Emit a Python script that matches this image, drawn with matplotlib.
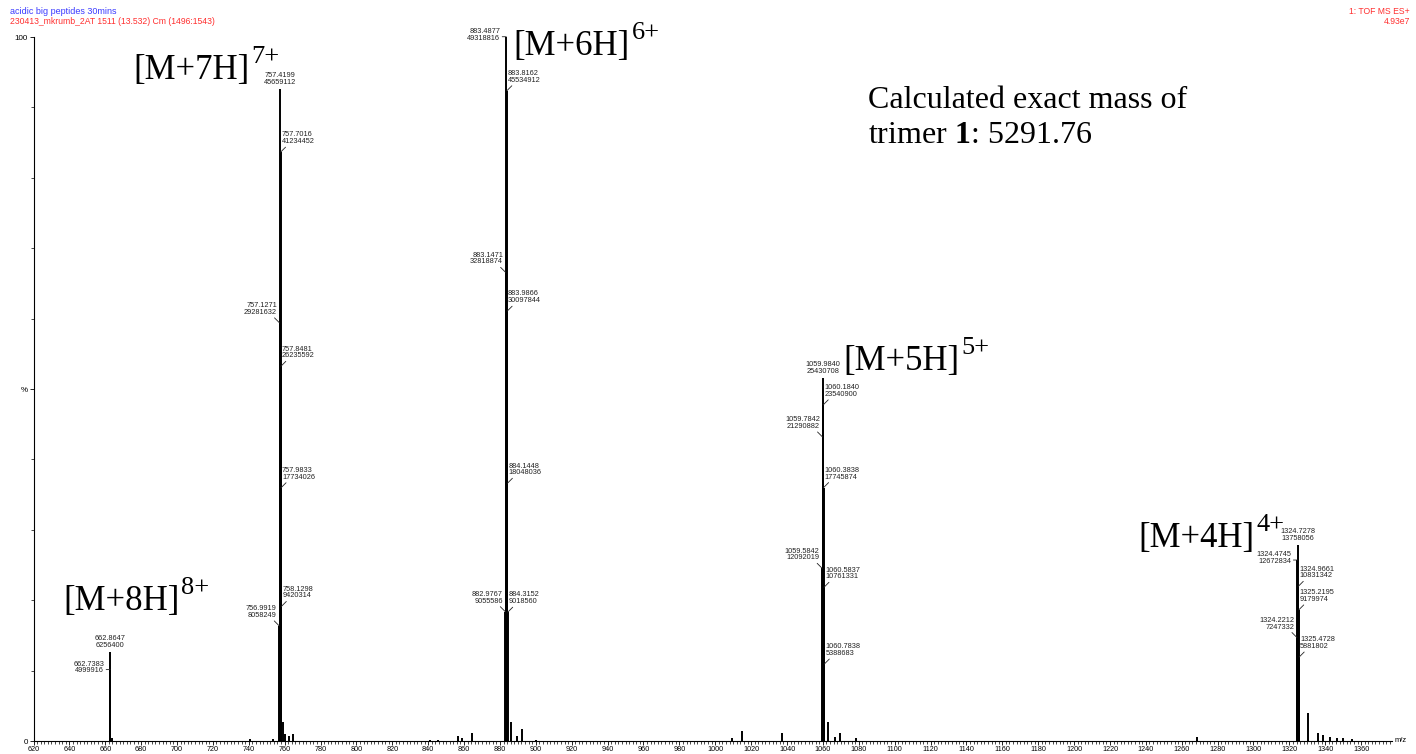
import matplotlib
matplotlib.use("Agg")
import matplotlib.pyplot as plt
from matplotlib.ticker import MultipleLocator, FixedLocator

plt.rcParams['mathtext.fontset'] = 'custom'
plt.rcParams['mathtext.rm'] = 'Liberation Serif'
plt.rcParams['mathtext.bf'] = 'Liberation Serif:bold'

# base peak intensity (100 %)
base_int = 4.93e7

# labelled isotope peaks: m/z, intensity, label placement
peak_mz = [662.7383, 662.8647,
           756.9919, 757.1271, 757.4199, 757.7016, 757.8481, 757.9833, 758.1298,
           882.9767, 883.1471, 883.4877, 883.8162, 883.9866, 884.1448, 884.3152,
           1059.5842, 1059.7842, 1059.9840, 1060.1840, 1060.3838, 1060.5837, 1060.7838,
           1324.2212, 1324.4745, 1324.7278, 1324.9661, 1325.2195, 1325.4728]
peak_int = [4999916, 6256400,
            8058249, 29281632, 45659112, 41234452, 26235592, 17734026, 9420314,
            9055586, 32818874, 49318816, 45534912, 30097844, 18048036, 9018560,
            12092019, 21290882, 25430708, 23540900, 17745874, 10761331, 5388683,
            7247332, 12672834, 13758056, 10831342, 9179974, 5881802]
peak_pos = ['h', 't',
            'l', 'l', 't', 'r', 'r', 'r', 'r',
            'l', 'l', 'h', 'r', 'r', 'r', 'r',
            'l', 'l', 't', 'r', 'r', 'r', 'r',
            'l', 'h', 't', 'r', 'r', 'r', 'r']

# small unlabelled peaks near the baseline (m/z, %)
noise_mz = [663.5, 740.7, 753.5, 759.2, 760.0, 762.5, 764.7, 841.0, 845.6, 856.6,
            859.0, 864.4, 886.2, 889.6, 892.3, 900.0, 1009.4, 1015.0, 1037.2, 1062.8,
            1067.0, 1069.3, 1078.2, 1268.6, 1330.4, 1335.9, 1338.7, 1342.6, 1346.4,
            1349.8, 1354.8]
noise_pct = [0.4, 0.3, 0.3, 2.7, 1.0, 0.7, 1.0, 0.2, 0.2, 0.7,
             0.4, 1.1, 2.7, 0.7, 1.7, 0.2, 0.4, 1.4, 1.1, 2.7,
             0.6, 1.2, 0.4, 0.5, 4.0, 1.1, 0.8, 0.6, 0.4,
             0.4, 0.3]

# charge state labels
ion_text = ['[M+8H]', '[M+7H]', '[M+6H]', '[M+5H]', '[M+4H]']
ion_sup = ['8+', '7+', '6+', '5+', '4+']
ion_mz = [636.4, 675.5, 887.3, 1071.2, 1235.6]
ion_pct = [18.6, 94.0, 97.4, 52.7, 27.6]

x_ticks = list(range(620, 1380, 20))

fig = plt.figure(figsize=(14.16, 7.54), dpi=100)
ax = fig.add_axes([33.5 / 1416, 13 / 754, (1392 - 33.5) / 1416, 704 / 754])

all_pct = [i / base_int * 100 for i in peak_int]
ax.vlines(peak_mz, 0, all_pct, color='black', lw=1.4)
ax.vlines(noise_mz, 0, noise_pct, color='black', lw=1.4)

ax.set_xlim(620, 1377.2)
ax.set_ylim(0, 100)
for s in ['top', 'right']:
    ax.spines[s].set_visible(False)
for s in ['left', 'bottom']:
    ax.spines[s].set_linewidth(0.8)

ax.xaxis.set_major_locator(FixedLocator(x_ticks))
ax.xaxis.set_minor_locator(MultipleLocator(2))
ax.set_xticklabels([str(t) for t in x_ticks], fontsize=5.2, family='Liberation Sans')
ax.tick_params(axis='x', which='major', length=3, width=0.6, pad=0.5)
ax.tick_params(axis='x', which='minor', length=1.8, width=0.5)

ax.yaxis.set_major_locator(FixedLocator([0, 50, 100]))
ax.yaxis.set_minor_locator(MultipleLocator(10))
ax.set_yticklabels(['0', '%', '100'], fontsize=5.8, family='Liberation Sans')
ax.tick_params(axis='y', which='major', length=3, width=0.6, pad=1)
ax.tick_params(axis='y', which='minor', length=2, width=0.5)

px = 0.72  # points per pixel
lab_kw = dict(fontsize=5.3, family='Liberation Sans', color='#222222',
              textcoords='offset points', linespacing=0.95)
lead_kw = dict(arrowstyle='-', lw=0.6, color='#222222', shrinkA=0, shrinkB=0)

for mz, inten, pos in zip(peak_mz, peak_int, peak_pos):
    pct = inten / base_int * 100
    txt = f"{mz:.4f}\n{inten}"
    if pos == 't':
        ax.annotate(txt, (mz, pct), xytext=(0, 3 * px), ha='center', va='bottom', **lab_kw)
    elif pos == 'r':
        ax.annotate(txt, (mz, pct), xytext=(1 * px, 7 * px), ha='left', va='bottom', **lab_kw)
        ax.annotate('', (mz, pct), xytext=(5 * px, 5 * px), textcoords='offset points',
                    arrowprops=lead_kw)
    elif pos == 'l':
        ax.annotate(txt, (mz, pct), xytext=(-2.5 * px, 7 * px), ha='right', va='bottom', **lab_kw)
        ax.annotate('', (mz, pct), xytext=(-5 * px, 5 * px), textcoords='offset points',
                    arrowprops=lead_kw)
    else:
        ax.annotate(txt, (mz, pct), xytext=(-6 * px, 2 * px), ha='right', va='center', **lab_kw)
        ax.annotate('', (mz, pct), xytext=(-4 * px, 0), textcoords='offset points',
                    arrowprops=lead_kw)

for t, sup, mz, pct in zip(ion_text, ion_sup, ion_mz, ion_pct):
    main = ax.text(mz, pct, t, fontsize=25, family='Liberation Serif', ha='left', va='baseline')
    ax.annotate(sup, xy=(1, 0.58), xycoords=main, xytext=(1.5, 0), textcoords='offset points',
                fontsize=19, family='Liberation Serif', ha='left', va='bottom')

ax.text(1085.1, 89.9, 'Calculated exact mass of', fontsize=23, family='Liberation Serif',
        ha='left', va='baseline')
ax.text(1085.1, 84.9, r'trimer $\mathbf{1}$: 5291.76', fontsize=23, family='Liberation Serif',
        ha='left', va='baseline')

fig.text(1395 / 1416, (754 - 741) / 754, 'm/z', fontsize=5.5, family='Liberation Sans',
         ha='left', va='center')

fig.text(10 / 1416, 1 - 11 / 754, 'acidic big peptides 30mins', fontsize=6.5,
         family='Liberation Sans', color='#3a3aff', ha='left', va='center')
fig.text(10 / 1416, 1 - 21 / 754, '230413_mkrumb_2AT 1511 (13.532) Cm (1496:1543)', fontsize=6.2,
         family='Liberation Sans', color='#ff3030', ha='left', va='center')
fig.text(1410 / 1416, 1 - 11 / 754, '1: TOF MS ES+', fontsize=6.2,
         family='Liberation Sans', color='#ff3030', ha='right', va='center')
fig.text(1410 / 1416, 1 - 21 / 754, '4.93e7', fontsize=6.2,
         family='Liberation Sans', color='#ff3030', ha='right', va='center')

fig.savefig('out.png', dpi=100)
